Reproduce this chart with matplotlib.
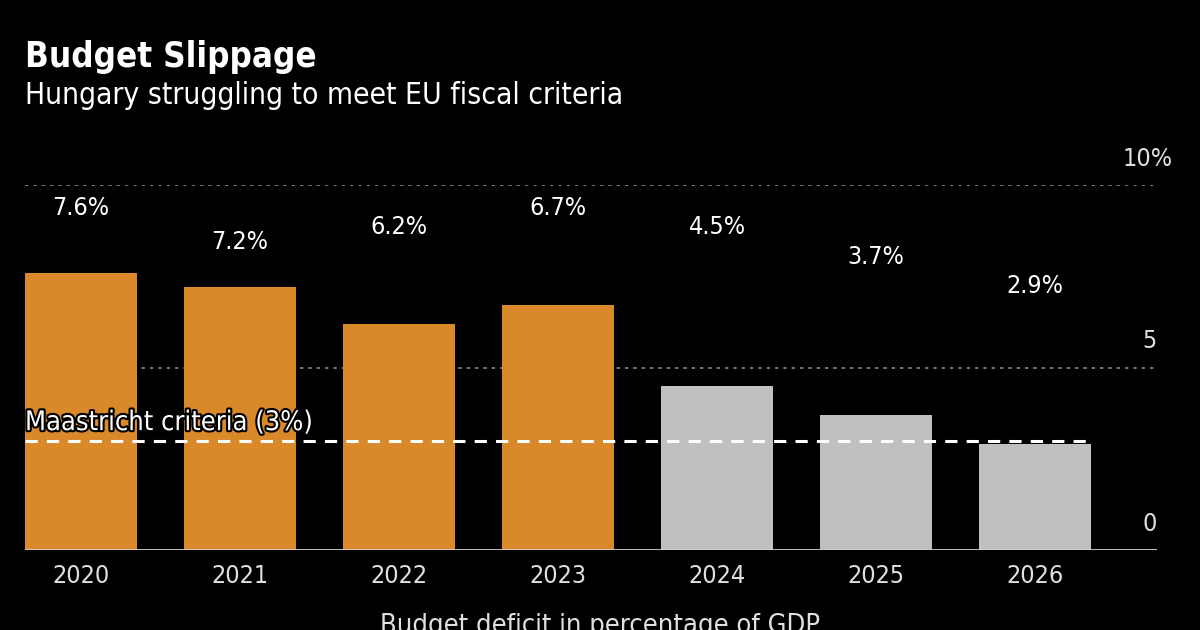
import numpy as np
import matplotlib.pyplot as plt
import matplotlib.patheffects as pe
from matplotlib.transforms import blended_transform_factory

years = ["2020", "2021", "2022", "2023", "2024", "2025", "2026"]
deficit = [7.6, 7.2, 6.2, 6.7, 4.5, 3.7, 2.9]
is_forecast = [False, False, False, False, True, True, True]
maastricht = 3.0

# label heights as placed in the original chart
label_y = [9.37, 8.44, 8.85, 9.37, 8.85, 8.03, 7.23]

ORANGE = "#D9882A"
GREY = "#C0C0C0"

plt.rcParams['font.family'] = ['DejaVu Sans Condensed', 'DejaVu Sans']
plt.rcParams['font.stretch'] = 'condensed'

fig = plt.figure(figsize=(12, 6.3), dpi=100, facecolor="black")
ax = fig.add_axes([25 / 1200, 80 / 630, 1132 / 1200, 365 / 630])
ax.set_facecolor("black")

x = np.arange(len(years))
colors = [GREY if f else ORANGE for f in is_forecast]
ax.bar(x, deficit, width=0.70, color=colors, zorder=2)

ax.set_xlim(-0.352, 6.767)
ax.set_ylim(0, 10)

# gridlines + baseline
for v in [5, 10]:
    ax.axhline(v, color="#8a8a8a", lw=1.2, ls=(0, (2, 3)), zorder=1)
ax.axhline(0, color="#d0d0d0", lw=2, zorder=3)

# maastricht line
ax.hlines(maastricht, -0.352, 6.35, color="white", lw=2.2, ls=(0, (4, 3)), zorder=4)
ax.text(-0.352, maastricht + 0.12, "Maastricht criteria (3%)", color="white",
        fontsize=19.5, ha="left", va="bottom", zorder=5,
        path_effects=[pe.withStroke(linewidth=3, foreground="black")])

# value labels
for xi, v, ly in zip(x, deficit, label_y):
    ax.text(xi, ly, f"{v}%", color="white", fontsize=18, ha="center", va="center")

# y tick labels on the right, above the lines
tr = blended_transform_factory(ax.transAxes, ax.transData)
ax.text(1.0 + 16 / 1132, 10.72, "10%", color="#e0e0e0", fontsize=18,
        ha="right", va="center", transform=tr)
ax.text(1.0, 5.72, "5", color="#e0e0e0", fontsize=18, ha="right", va="center", transform=tr)
ax.text(1.0, 0.72, "0", color="#e0e0e0", fontsize=18, ha="right", va="center", transform=tr)

ax.set_xticks(x)
ax.set_xticklabels(years, fontsize=18, color="#e0e0e0")
ax.tick_params(axis="x", length=0, pad=10)
ax.set_yticks([])
for s in ax.spines.values():
    s.set_visible(False)

fig.text(25 / 1200, 1 - 57 / 630, "Budget Slippage", color="white", fontsize=25,
         fontweight="bold", ha="left", va="center")
fig.text(25 / 1200, 1 - 95 / 630, "Hungary struggling to meet EU fiscal criteria",
         color="white", fontsize=21.5, ha="left", va="center")
fig.text(600 / 1200, 1 - 626 / 630, "Budget deficit in percentage of GDP",
         color="#e0e0e0", fontsize=19.5, ha="center", va="center")

fig.savefig("out.png", dpi=100, facecolor="black")
